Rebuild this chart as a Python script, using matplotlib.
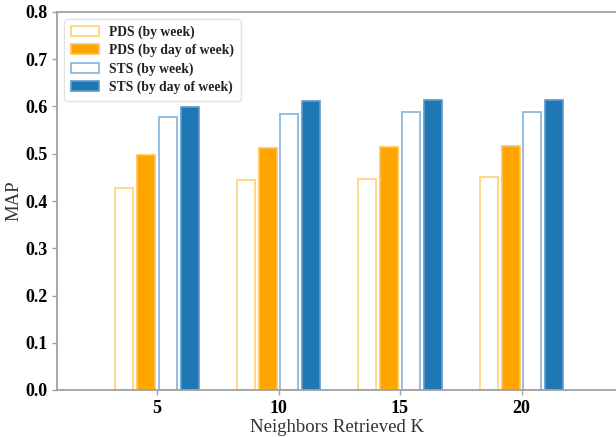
import matplotlib
matplotlib.use("Agg")
import matplotlib.pyplot as plt
import numpy as np

# values
k_values = [5, 10, 15, 20]
pds_week = [0.428, 0.444, 0.447, 0.451]
pds_day = [0.498, 0.513, 0.515, 0.516]
sts_week = [0.578, 0.585, 0.589, 0.589]
sts_day = [0.600, 0.612, 0.614, 0.614]

plt.rcParams['font.family'] = ['Liberation Serif', 'DejaVu Serif']

W, H = 616, 437
left_px, right_px, top_px, bot_px = 57, 618, 12, 390
fig = plt.figure(figsize=(W/100, H/100), dpi=100)
ax = fig.add_axes([left_px/W, 1-bot_px/H, (right_px-left_px)/W, (bot_px-top_px)/H])

x = np.array(k_values, dtype=float)
w = 0.74
step = 0.9
orange = '#FFA500'
blue = '#1f77b4'

ax.bar(x - 1.5*step, pds_week, w, color='white', edgecolor='#FFD68A', linewidth=1.4, label='PDS (by week)')
ax.bar(x - 0.5*step, pds_day, w, color=orange, edgecolor='#FFC25A', linewidth=1.2, label='PDS (by day of week)')
ax.bar(x + 0.5*step, sts_week, w, color='white', edgecolor='#93BFE3', linewidth=1.4, label='STS (by week)')
ax.bar(x + 1.5*step, sts_day, w, color=blue, edgecolor='#5E9ACB', linewidth=1.2, label='STS (by day of week)')

ppu = (521.5 - 157) / 15.0
ax.set_xlim(5 - (157-left_px)/ppu, 5 + (right_px-157)/ppu)
ax.set_ylim(0, 0.8)
ax.set_xticks(k_values)
yt = np.arange(0, 0.81, 0.1)
ax.set_yticks(yt)
ax.set_yticklabels(['%.1f' % v for v in yt])

for s in ax.spines.values():
    s.set_color('#A0A0A0')
    s.set_linewidth(1.3)
ax.tick_params(colors='#A0A0A0', labelcolor='black', labelsize=13, width=1, length=3.5)
for lab in ax.get_xticklabels() + ax.get_yticklabels():
    lab.set_fontweight('bold')

ax.set_xlabel('Neighbors Retrieved K', fontsize=13.5, color='#333333', labelpad=2)
ax.set_ylabel('MAP', fontsize=13.5, color='#333333')
ax.yaxis.set_label_coords((22-left_px)/(right_px-left_px), 0.5)

leg = ax.legend(loc='upper left', prop={'weight': 'bold', 'size': 9.8}, frameon=True,
                handlelength=2.05, handleheight=0.75, labelspacing=0.35, borderpad=0.5,
                borderaxespad=0.5)
leg.get_frame().set_edgecolor('#DDDDDD')
for t in leg.get_texts():
    t.set_color('#222222')

fig.savefig('out.png', dpi=100)
